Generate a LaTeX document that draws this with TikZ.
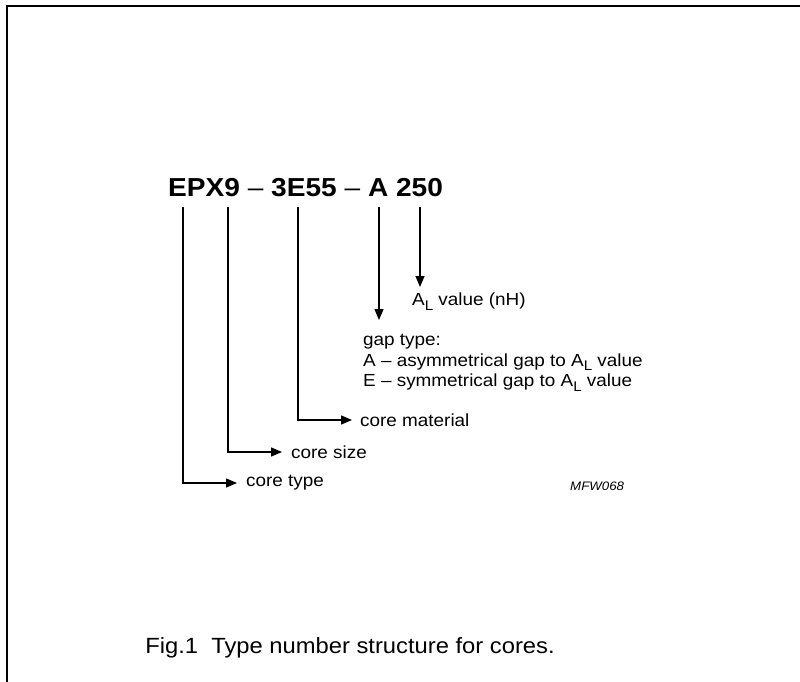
\documentclass[tikz,border=0pt]{standalone}
\usepackage{fontspec}
\setmainfont{Liberation Sans}[FakeStretch=1.08]
\usetikzlibrary{arrows.meta}
\newcommand{\subL}{\raisebox{-0.28em}{\fontsize{14}{14}\selectfont L}}

\begin{document}
\begin{tikzpicture}[x=1pt, y=-1pt,
    tag/.style={inner sep=0pt, font=\fontsize{17.5}{20.5}\selectfont, align=left},
    arr/.style={-{Triangle[length=11pt,width=9pt]}, line width=1.3pt}
  ]
  \useasboundingbox (0,0) rectangle (800,682);
  \draw[line width=2pt] (7,682) -- (7,6) -- (800,6);

  \node[anchor=base west, inner sep=0pt, font=\fontsize{26}{30}\selectfont]
    (code) at (168,196) {\textbf{EPX9} – \textbf{3E55} – \textbf{A 250}};

  \coordinate (ctype) at (183,207);
  \coordinate (csize) at (228,207);
  \coordinate (cmat) at (298,207);
  \coordinate (cgap) at (379,207);
  \coordinate (cal) at (420,207);

  \node[tag, anchor=west] (coretype) at (246,483) {core type};
  \node[tag, anchor=west] (coresize) at (291,452) {core size};
  \node[tag, anchor=west] (corematerial) at (360,420) {core material};
  \node[tag, anchor=north west] (alvalue) at (412,293) {A\subL{} value (nH)};
  \node[tag, anchor=north west] (gaptype) at (363,334)
    {gap type:\\A – asymmetrical gap to A\subL{} value\\E – symmetrical gap to A\subL{} value};

  \draw[arr] (ctype) |- ([xshift=-9pt]coretype.west);
  \draw[arr] (csize) |- ([xshift=-9pt]coresize.west);
  \draw[arr] (cmat) |- ([xshift=-8pt]corematerial.west);
  \draw[arr] (cgap) -- ([yshift=14pt]cgap |- gaptype.north);
  \draw[arr] (cal) -- ([yshift=6pt]cal |- alvalue.north);

  \node[anchor=base west, inner sep=0pt, font=\fontsize{12.3}{14}\selectfont\itshape]
    (mfw) at (570,490) {MFW068};
  \node[anchor=base, inner sep=0pt, font=\fontsize{22}{26}\selectfont]
    (caption) at (350,653) {Fig.1\ \ Type number structure for cores.};
\end{tikzpicture}
\end{document}
